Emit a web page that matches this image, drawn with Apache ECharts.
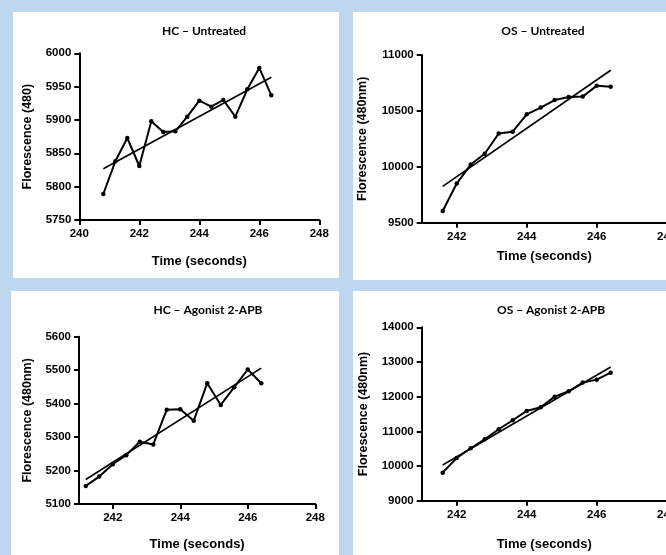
<!DOCTYPE html>
<html>
<head>
<meta charset="utf-8">
<script src="https://cdn.jsdelivr.net/npm/echarts@6/dist/echarts.min.js"></script>
<style>
html,body{margin:0;padding:0;background:#bdd7ee;}
#c{width:666px;height:555px;}
</style>
</head>
<body>
<div id="c"></div>
<script>
// ---- data ----
var titles = ['HC \u2013 Untreated', 'OS \u2013 Untreated', 'HC \u2013 Agonist 2-APB', 'OS \u2013 Agonist 2-APB'];
var yNames = ['Florescence (480)', 'Florescence (480nm)', 'Florescence (480nm)', 'Florescence (480nm)'];
var xName = 'Time (seconds)';

var hcUntreatedTime = [240.8, 241.2, 241.6, 242.0, 242.4, 242.8, 243.2, 243.6, 244.0, 244.4, 244.8, 245.2, 245.6, 246.0, 246.4];
var hcUntreatedVal  = [5789, 5838, 5873, 5831, 5898, 5882, 5883, 5905, 5929, 5920, 5930, 5905, 5946, 5978, 5937];
var hcUntreatedFit  = [[240.8, 5827], [246.4, 5964]];

var osUntreatedTime = [241.6, 242.0, 242.4, 242.8, 243.2, 243.6, 244.0, 244.4, 244.8, 245.2, 245.6, 246.0, 246.4];
var osUntreatedVal  = [9604, 9850, 10020, 10117, 10298, 10314, 10469, 10530, 10597, 10624, 10628, 10725, 10715];
var osUntreatedFit  = [[241.6, 9825], [246.4, 10863]];

var hcAgonistTime = [241.2, 241.6, 242.0, 242.4, 242.8, 243.2, 243.6, 244.0, 244.4, 244.8, 245.2, 245.6, 246.0, 246.4];
var hcAgonistVal  = [5154, 5182, 5219, 5246, 5286, 5278, 5382, 5383, 5349, 5461, 5396, 5449, 5502, 5461];
var hcAgonistFit  = [[241.2, 5173], [246.4, 5506]];

var osAgonistTime = [241.6, 242.0, 242.4, 242.8, 243.2, 243.6, 244.0, 244.4, 244.8, 245.2, 245.6, 246.0, 246.4];
var osAgonistVal  = [9808, 10232, 10512, 10771, 11060, 11320, 11588, 11694, 12000, 12156, 12405, 12491, 12693];
var osAgonistFit  = [[241.6, 10030], [246.4, 12857]];

var xTicks = [242, 244, 246, 248];

// ---- build ----
function pairs(t, v) { return t.map(function (x, i) { return [x, v[i]]; }); }
var panels = [
  { t: hcUntreatedTime, v: hcUntreatedVal, fit: hcUntreatedFit, xmin: 240, xmax: 248, xint: 2, ymin: 5750, ymax: 6000, yint: 50,
    grid: { left: 79.3, right: 346.7, top: 53.3, bottom: 335 }, yGap: 45, xGap: 35, titleX: 204, titleY: 31 },
  { t: osUntreatedTime, v: osUntreatedVal, fit: osUntreatedFit, xmin: 241, xmax: 248, custom: true, ymin: 9500, ymax: 11000, yint: 500,
    grid: { left: 421.7, right: -0.7, top: 55, bottom: 332.3 }, yGap: 53, xGap: 27, titleX: 543, titleY: 31 },
  { t: hcAgonistTime, v: hcAgonistVal, fit: hcAgonistFit, xmin: 241, xmax: 248, custom: true, ymin: 5100, ymax: 5600, yint: 100,
    grid: { left: 79, right: 350.75, top: 336.7, bottom: 51 }, yGap: 45, xGap: 34, titleX: 208, titleY: 310 },
  { t: osAgonistTime, v: osAgonistVal, fit: osAgonistFit, xmin: 241, xmax: 248, custom: true, ymin: 9000, ymax: 14000, yint: 1000,
    grid: { left: 421.7, right: -0.7, top: 327.3, bottom: 54.3 }, yGap: 52, xGap: 37, titleX: 551, titleY: 310 }
];

var FONT = 'Arial';
var grids = [], xAxes = [], yAxes = [], series = [], graphics = [];

// white panels
var rects = [[13, 12, 326, 266], [353, 12, 313, 268], [11, 291, 328, 264], [353, 291, 313, 264]];
rects.forEach(function (r) {
  graphics.push({ type: 'rect', z: -10, shape: { x: r[0], y: r[1], width: r[2], height: r[3] }, style: { fill: '#ffffff' } });
});

function plain(v) { return String(v); }

panels.forEach(function (p, i) {
  var g = p.grid;
  g.outerBoundsMode = 'none';
  g.containLabel = false;
  grids.push(g);
  var axisLine = { show: true, onZero: false, lineStyle: { color: '#000', width: 2 } };
  var axisTick = { show: true, length: 5, lineStyle: { color: '#000', width: 2 } };
  var xa = {
    type: 'value', gridIndex: i, min: p.xmin, max: p.xmax,
    name: xName, nameLocation: 'middle', nameGap: p.xGap,
    nameTextStyle: { fontFamily: FONT, fontWeight: 'bold', fontSize: 13, color: '#000' },
    axisLine: axisLine, axisTick: JSON.parse(JSON.stringify(axisTick)),
    axisLabel: { fontFamily: FONT, fontWeight: 'bold', fontSize: 11.5, color: '#000', margin: 8, formatter: plain, showMinLabel: true, showMaxLabel: true },
    splitLine: { show: false }
  };
  if (p.custom) {
    xa.axisTick.customValues = xTicks;
    xa.axisLabel.customValues = xTicks;
  } else {
    xa.interval = p.xint;
  }
  xAxes.push(xa);
  yAxes.push({
    type: 'value', gridIndex: i, min: p.ymin, max: p.ymax, interval: p.yint,
    name: yNames[i], nameLocation: 'middle', nameGap: p.yGap,
    nameTextStyle: { fontFamily: FONT, fontWeight: 'bold', fontSize: 12.5, color: '#000' },
    axisLine: axisLine, axisTick: axisTick,
    axisLabel: { fontFamily: FONT, fontWeight: 'bold', fontSize: 11.5, color: '#000', margin: 8, formatter: plain },
    splitLine: { show: false }
  });
  series.push({
    type: 'line', xAxisIndex: i, yAxisIndex: i, data: pairs(p.t, p.v),
    symbol: 'circle', symbolSize: 4.5, showSymbol: true,
    itemStyle: { color: '#000' }, lineStyle: { color: '#000', width: 2 }, z: 3
  });
  series.push({
    type: 'line', xAxisIndex: i, yAxisIndex: i, data: p.fit,
    symbol: 'none', lineStyle: { color: '#000', width: 1.7 }, z: 2
  });
  graphics.push({
    type: 'text', x: p.titleX, y: p.titleY, z: 10,
    style: { text: titles[i], fill: '#000', font: 'bold 12px Lato, "Open Sans", sans-serif', textAlign: 'center', textVerticalAlign: 'middle' }
  });
});

var chart = echarts.init(document.getElementById('c'), null, { renderer: 'canvas' });
chart.setOption({
  backgroundColor: '#bdd7ee',
  animation: false,
  grid: grids,
  xAxis: xAxes,
  yAxis: yAxes,
  series: series,
  graphic: graphics
});
</script>
</body>
</html>
